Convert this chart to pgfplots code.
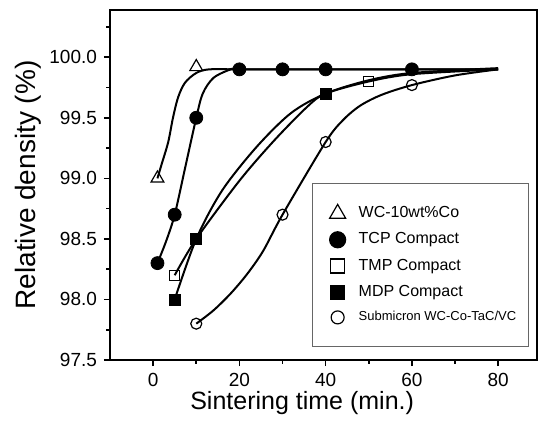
\documentclass[border=0pt]{standalone}
\usepackage{fontspec}
\setmainfont{Liberation Sans}
\usepackage{pgfplots}
\pgfplotsset{compat=1.18}
% legend image: only the mark, a bit larger than in the plot
\pgfplotsset{
    legmark/.style={legend image code/.code={\path[draw=none,fill=none] (0,-2pt) rectangle (0.6cm,2pt);
        \draw[##1, mark size=#1] plot coordinates {(0.3cm,0cm)};}},
}

\begin{document}
\begin{tikzpicture}
\begin{axis}[
    at={(0,0)}, anchor=south west,
    scale only axis, width=213.5pt, height=175pt,
    xmin=-10, xmax=89,
    ymin=97.5, ymax=100.39,
    xtick={0,20,40,60,80},
    minor xtick={10,30,50,70},
    ytick={97.5,98.0,98.5,99.0,99.5,100.0},
    minor ytick={97.75,98.25,98.75,99.25,99.75,100.25},
    yticklabel style={/pgf/number format/.cd,fixed,fixed zerofill,precision=1},
    /pgf/number format/assume math mode=true,
    tick align=outside, tick pos=left,
    major tick length=3pt, minor tick length=1.8pt,
    every tick/.style={black, line width=0.8pt},
    axis line style={line width=1pt},
    ticklabel style={font=\fontsize{9.5}{11}\selectfont},
    xlabel={Sintering time (min.)},
    ylabel={Relative density (\%)},
    xlabel style={font=\fontsize{12.5}{14}\selectfont, at={(axis description cs:0.45,-0.123)}, anchor=center},
    ylabel style={font=\fontsize{14}{16}\selectfont, at={(axis description cs:-0.192,0.5)}, anchor=center},
    legend style={at={(axis description cs:0.473,0.506)}, anchor=north west,
        draw=black!60, line width=0.6pt, inner xsep=4pt, inner ysep=9.5pt,
        row sep=2pt, font=\fontsize{8}{9.5}\selectfont,
        cells={anchor=west}},
]

% fitted curves
\addplot[smooth, line width=1pt, forget plot] coordinates {
    (1,99.0) (2,99.12) (3.5,99.3) (4.6,99.5) (5.8,99.67) (7.4,99.79)
    (10,99.87) (13,99.9) (20,99.9) (40,99.9) (80,99.9)
};
\addplot[smooth, line width=1pt, forget plot] coordinates {
    (1,98.3) (3,98.48) (5,98.7) (7.5,99.1) (10,99.5) (11.5,99.7)
    (14,99.83) (18,99.9) (20,99.9) (40,99.9) (80,99.9)
};
\addplot[smooth, line width=1pt, forget plot] coordinates {
    (5,98.2) (10,98.5) (20,98.98) (28,99.31) (35.7,99.59) (40,99.7)
    (50,99.8) (60,99.86) (80,99.9)
};
\addplot[smooth, line width=1pt, forget plot] coordinates {
    (5,98.0) (10,98.5) (16,98.9) (24,99.26) (32,99.54) (40,99.7)
    (50,99.81) (60,99.87) (80,99.91)
};
\addplot[smooth, line width=1pt, forget plot] coordinates {
    (10,97.8) (14,97.91) (18,98.05) (21.8,98.21) (25.5,98.4) (30,98.7)
    (40,99.3) (44,99.48) (48,99.6) (53,99.69) (60,99.77) (70,99.85) (80,99.9)
};

% measured points
\addplot[only marks, mark=triangle, mark size=3.7pt,
    mark options={fill=white, line width=0.6pt}, legmark=4.6pt]
    coordinates {(1,99.0) (10,99.92)};
\addlegendentry{WC-10wt\%Co}
\addplot[only marks, mark=*, mark size=3.25pt, mark options={fill=black}, legmark=4pt]
    coordinates {(1,98.3) (5,98.7) (10,99.5) (20,99.9) (30,99.9) (40,99.9) (60,99.9)};
\addlegendentry{TCP Compact}
\addplot[only marks, mark=square, mark size=2.5pt,
    mark options={fill=white, line width=0.6pt}, legmark=3.5pt]
    coordinates {(5,98.2) (10,98.5) (40,99.7) (50,99.8)};
\addlegendentry{TMP Compact}
\addplot[only marks, mark=square*, mark size=2.75pt, mark options={fill=black}, legmark=3.5pt]
    coordinates {(5,98.0) (10,98.5) (40,99.7)};
\addlegendentry{MDP Compact}
\addplot[only marks, mark=o, mark size=2.75pt,
    mark options={fill=white, line width=0.6pt}, legmark=3.25pt]
    coordinates {(10,97.8) (30,98.7) (40,99.3) (60,99.77)};
\addlegendentry{\fontsize{6.5}{8}\selectfont Submicron WC-Co-TaC/VC}

\end{axis}
\pgfresetboundingbox
\path[use as bounding box] (-55pt,-35pt) rectangle (214.5pt,180pt);
\end{tikzpicture}
\end{document}
